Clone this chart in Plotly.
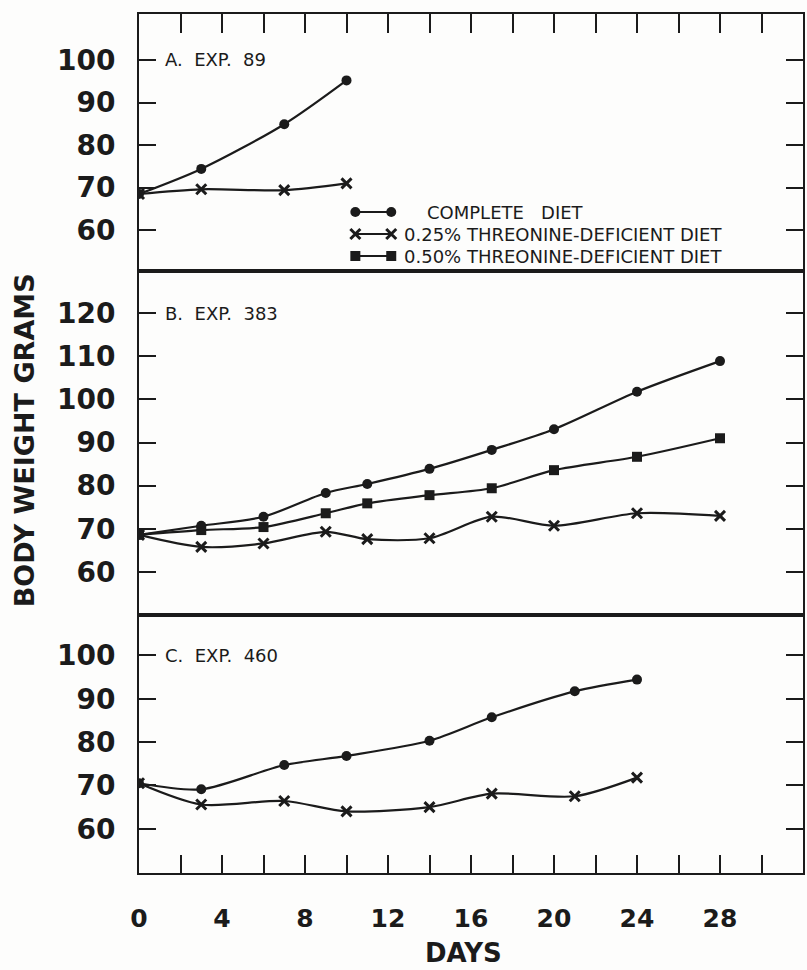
import plotly.graph_objects as go

# ---- data: body weight (grams) by day ----
# A. Exp. 89
a_days = [0, 3, 7, 10]
a_complete = [68.5, 74.4, 84.9, 95.2]
a_thr025 = [68.5, 69.6, 69.4, 71.0]

# B. Exp. 383
b_days = [0, 3, 6, 9, 11, 14, 17, 20, 24, 28]
b_complete = [68.6, 70.7, 72.8, 78.3, 80.4, 83.9, 88.3, 93.1, 101.8, 108.9]
b_thr025 = [68.6, 65.8, 66.6, 69.3, 67.6, 67.8, 72.8, 70.7, 73.6, 73.0]
b_thr050 = [68.6, 69.7, 70.4, 73.6, 75.9, 77.8, 79.4, 83.6, 86.7, 91.0]

# C. Exp. 460
c_days = [0, 3, 7, 10, 14, 17, 21, 24]
c_complete = [70.5, 69.1, 74.7, 76.8, 80.3, 85.7, 91.7, 94.4]
c_thr025 = [70.5, 65.6, 66.4, 64.0, 65.0, 68.1, 67.5, 71.8]

panel_labels = ["A.  EXP.  89", "B.  EXP.  383", "C.  EXP.  460"]
legend_labels = ["COMPLETE   DIET",
                 "0.25% THREONINE-DEFICIENT DIET",
                 "0.50% THREONINE-DEFICIENT DIET"]
x_label_vals = [0, 4, 8, 12, 16, 20, 24, 28]

INK = "#1b1b1b"
W, H = 807, 970
ML, MR, MT, MB = 139, 2, 14, 97

STYLE = {
    "complete": dict(symbol="circle", size=10, color=INK, line=dict(width=0)),
    "thr025": dict(symbol="x-thin", size=10, color=INK, line=dict(width=3, color=INK)),
    "thr050": dict(symbol="square", size=10, color=INK, line=dict(width=0)),
}


def series(x, y, kind, xa, ya):
    return go.Scatter(
        x=x, y=y, xaxis=xa, yaxis=ya, mode="lines+markers",
        line=dict(color=INK, width=2.2, shape="spline", smoothing=0.8),
        marker=STYLE[kind], showlegend=False, hoverinfo="x+y",
    )


fig = go.Figure()
fig.add_trace(series(a_days, a_thr025, "thr025", "x", "y"))
fig.add_trace(series(a_days, a_complete, "complete", "x", "y"))
fig.add_trace(series(b_days, b_thr025, "thr025", "x2", "y2"))
fig.add_trace(series(b_days, b_thr050, "thr050", "x2", "y2"))
fig.add_trace(series(b_days, b_complete, "complete", "x2", "y2"))
fig.add_trace(series(c_days, c_thr025, "thr025", "x3", "y3"))
fig.add_trace(series(c_days, c_complete, "complete", "x3", "y3"))

# ---- legend keys drawn on a pixel-space helper axis ----
key_x0, key_x1 = 356, 392
key_rows = [212, 234, 256]
text_x = [426, 403, 403]
for kind, ky in zip(["complete", "thr025", "thr050"], key_rows):
    fig.add_trace(go.Scatter(
        x=[key_x0, key_x1], y=[ky, ky], xaxis="x4", yaxis="y4",
        mode="lines+markers", line=dict(color=INK, width=2.2),
        marker=STYLE[kind], showlegend=False, hoverinfo="skip",
    ))

annotations = []
for txt, tx, ky in zip(legend_labels, text_x, key_rows):
    annotations.append(dict(
        text=txt, x=tx, y=ky, xref="x4", yref="y4", xanchor="left",
        yanchor="middle", showarrow=False,
        font=dict(family="DejaVu Sans", size=18, color=INK),
    ))

# panel labels at the top labelled gridline of each panel
for txt, yref, yv in zip(panel_labels, ["y", "y2", "y3"], [100, 120, 100]):
    annotations.append(dict(
        text=txt, x=0.036, xref="x domain", y=yv, yref=yref,
        xanchor="left", yanchor="middle", showarrow=False,
        font=dict(family="DejaVu Sans", size=18, color=INK),
    ))

annotations.append(dict(
    text="BODY WEIGHT GRAMS", textangle=-90, x=(24 - ML) / (W - ML - MR),
    y=(H - MB - 440) / (H - MT - MB), xref="paper", yref="paper",
    xanchor="center", yanchor="middle", showarrow=False,
    font=dict(family="DejaVu Sans", size=27, color=INK, weight="bold"),
))
annotations.append(dict(
    text="DAYS", x=(464 - ML) / (W - ML - MR), y=-(953 - (H - MB)) / (H - MT - MB),
    xref="paper", yref="paper", xanchor="center", yanchor="middle",
    showarrow=False,
    font=dict(family="DejaVu Sans", size=26, color=INK, weight="bold"),
))

# panel heights (paper fraction)
hA = 257 / (H - MT - MB)
hC = 258 / (H - MT - MB)

XR = [0, 32]
tick2 = list(range(0, 31, 2))
tickfont_y = dict(family="DejaVu Sans", size=28, color=INK, weight="bold")
tickfont_x = dict(family="DejaVu Sans", size=25, color=INK, weight="bold")

common_x = dict(range=XR, showgrid=False, zeroline=False, showline=True,
                linecolor=INK, linewidth=2, mirror=True, fixedrange=True)
common_y = dict(showgrid=False, zeroline=False, showline=True, linecolor=INK,
                linewidth=2, mirror="ticks", ticks="inside", ticklen=17,
                tickwidth=2, tickcolor=INK, tickfont=tickfont_y,
                ticklabelstandoff=16, fixedrange=True)

fig.update_layout(
    width=W, height=H,
    margin=dict(l=ML, r=MR, t=MT, b=MB),
    paper_bgcolor="#fdfdfc", plot_bgcolor="rgba(0,0,0,0)",
    showlegend=False,
    xaxis=dict(**common_x, anchor="y", side="top", ticks="inside", ticklen=19,
               tickwidth=2, tickcolor=INK, tickvals=tick2,
               showticklabels=False),
    xaxis2=dict(**common_x, anchor="y2", ticks="", showticklabels=False),
    xaxis3=dict(**common_x, anchor="y3", ticks="inside", ticklen=18,
                tickwidth=2, tickcolor=INK, tickvals=tick2,
                ticktext=[str(v) if v in x_label_vals else "" for v in tick2],
                tickfont=tickfont_x, ticklabelstandoff=22),
    yaxis=dict(**common_y, anchor="x", domain=[1 - hA, 1],
               range=[50.4, 110.8], tickvals=[60, 70, 80, 90, 100]),
    yaxis2=dict(**common_y, anchor="x2", domain=[hC, 1 - hA],
                range=[50.0, 129.8], tickvals=[60, 70, 80, 90, 100, 110, 120]),
    yaxis3=dict(**common_y, anchor="x3", domain=[0, hC],
                range=[49.8, 109.3], tickvals=[60, 70, 80, 90, 100]),
    xaxis4=dict(domain=[0, 1], range=[ML, W - MR], visible=False,
                fixedrange=True, anchor="y4"),
    yaxis4=dict(domain=[0, 1], range=[H - MB, MT], visible=False,
                fixedrange=True, anchor="x4"),
    annotations=annotations,
)

fig.write_html("out.html")
